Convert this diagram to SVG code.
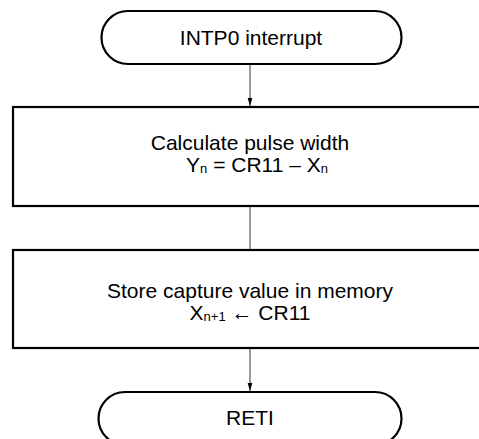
<svg xmlns="http://www.w3.org/2000/svg" width="479" height="439" viewBox="0 0 479 439">
<style>
.node{fill:#fff;stroke:#000;stroke-width:2.2}
.t{font-family:"Liberation Sans",Arial,sans-serif;font-size:21px;fill:#000;text-anchor:middle}
.sub{font-size:13px}
.edge{stroke:#333;stroke-width:1;fill:none}
</style>
<defs>
<marker id="ah" markerWidth="8" markerHeight="12" refX="12" refY="3.5" viewBox="0 0 12 7" markerUnits="userSpaceOnUse" orient="auto">
<path d="M0,0 L12,3.5 L0,7 Z" fill="#000"/>
</marker>
</defs>
<g id="connectors">
<line class="edge" x1="250" y1="65" x2="250" y2="106" marker-end="url(#ah)"/>
<line class="edge" x1="250" y1="207" x2="250" y2="249"/>
<line class="edge" x1="250" y1="349" x2="250" y2="391" marker-end="url(#ah)"/>
</g>
<g id="start">
<rect class="node" x="101.5" y="11" width="300" height="53" rx="26.5" ry="26.5"/>
<text class="t" x="251" y="45">INTP0 interrupt</text>
</g>
<g id="calc">
<rect class="node" x="13" y="107" width="500" height="99"/>
<text class="t" x="250" y="150">Calculate pulse width</text>
<text class="t" x="257" y="172">Y<tspan class="sub" dy="1">n</tspan><tspan dy="-1"> = CR11 – X</tspan><tspan class="sub" dy="1">n</tspan></text>
</g>
<g id="store">
<rect class="node" x="13" y="250" width="500" height="98"/>
<text class="t" x="250" y="298">Store capture value in memory</text>
<text class="t" x="250" y="320">X<tspan class="sub" dy="1">n+1</tspan><tspan dy="-1"> ← CR11</tspan></text>
</g>
<g id="end">
<rect class="node" x="98.5" y="392" width="303" height="53" rx="26.5" ry="26.5"/>
<text class="t" x="250" y="425">RETI</text>
</g>
</svg>
